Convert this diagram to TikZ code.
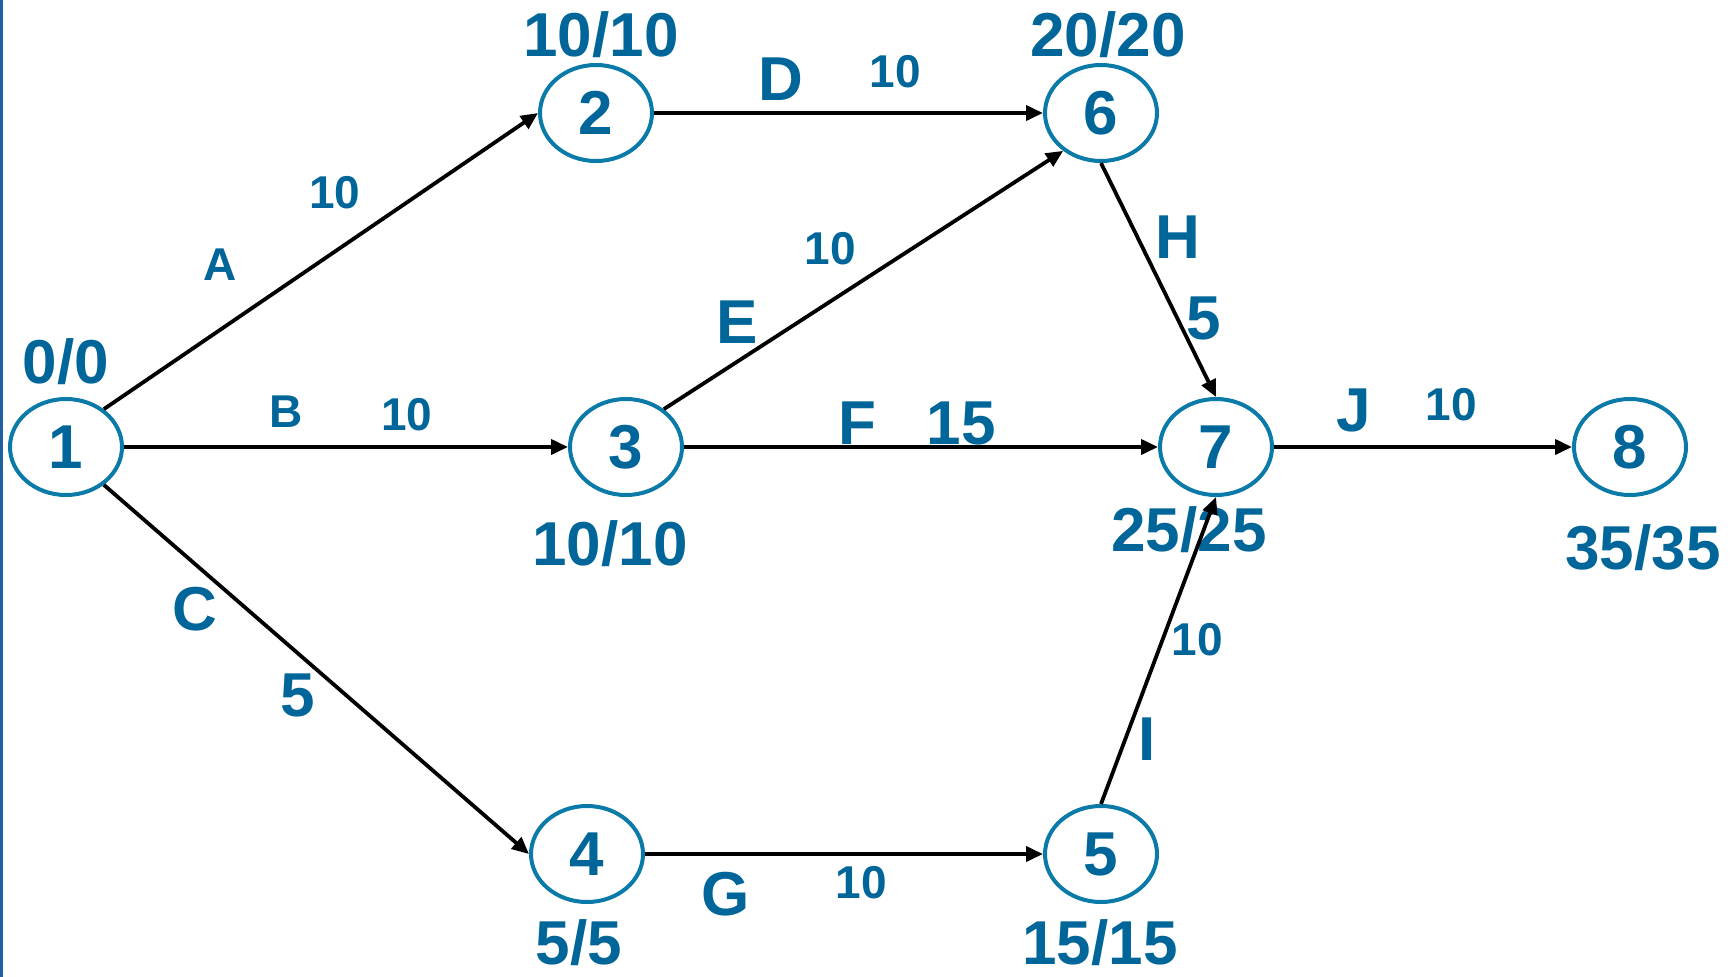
\documentclass[tikz,border=0pt]{standalone}
\usepackage{fontspec}
\setmainfont{Liberation Sans}
\usetikzlibrary{arrows.meta}
\definecolor{txtblue}{HTML}{006699}
\definecolor{ringblue}{HTML}{0A7AA8}
\definecolor{edgeblue}{HTML}{1F5FA0}
\tikzset{
  evt/.style={ellipse, draw=ringblue, line width=4pt, minimum width=112pt, minimum height=96pt, inner sep=0pt, text=txtblue, font=\fontsize{62}{62}\selectfont\bfseries},
  big/.style={text=txtblue, inner sep=0pt, font=\fontsize{62}{62}\selectfont\bfseries},
  small/.style={text=txtblue, inner sep=0pt, font=\fontsize{46}{46}\selectfont\bfseries},
  act/.style={line width=3.8pt, draw=black, -{Triangle[length=17pt,width=15pt]}}
}
\usetikzlibrary{shapes.geometric}
\begin{document}
\begin{tikzpicture}[x=1pt,y=-1pt]
\useasboundingbox (0,0) rectangle (1730,977);
\fill[edgeblue] (0,0) rectangle (3,977);
% events
\node[evt] (n1) at (66,447) {1};
\node[evt] (n2) at (596,113) {2};
\node[evt] (n3) at (626,447) {3};
\node[evt] (n4) at (587,854) {4};
\node[evt] (n5) at (1101,854) {5};
\node[evt] (n6) at (1101,113) {6};
\node[evt] (n7) at (1216,447) {7};
\node[evt] (n8) at (1630,447) {8};
% event times
\node[big] (t1) at (66,362) {0/0};
\node[big] (t2) at (601,35) {10/10};
\node[big] (t6) at (1108,35) {20/20};
\node[big] (t3) at (610,544) {10/10};
\node[big] (t7) at (1189,530) {25/25};
\node[big] (t8) at (1643,548) {35/35};
\node[big] (t4) at (579,943) {5/5};
\node[big] (t5) at (1100,943) {15/15};
% activity labels
\node[small] (lA) at (220,265) {A};
\node[small] (dA) at (335,193) {10};
\node[small] (lB) at (286,412) {B};
\node[small] (dB) at (407,415) {10};
\node[big] (lC) at (195,609) {C};
\node[big] (dC) at (298,695) {5};
\node[big] (lD) at (781,79) {D};
\node[small] (dD) at (895,72) {10};
\node[big] (lE) at (737,322) {E};
\node[small] (dE) at (830,249) {10};
\node[big] (lF) at (857,423) {F};
\node[big] (dF) at (961,423) {15};
\node[big] (lH) at (1178,237) {H};
\node[big] (dH) at (1204,318) {5};
\node[big] (lJ) at (1354,410) {J};
\node[small] (dJ) at (1451,405) {10};
\node[big] (lI) at (1147,739) {I};
\node[small] (dI) at (1197,640) {10};
\node[big] (lG) at (726,894) {G};
\node[small] (dG) at (861,883) {10};
% activities
\draw[act] (n1.45) -- (n2.west);
\draw[act] (n1.east) -- (n3.west);
\draw[act] (n1.-45) -- (n4.west);
\draw[act] (n2.east) -- (n6.west);
\draw[act] (n3.45) -- (n6.225);
\draw[act] (n3.east) -- (n7.west);
\draw[act] (n4.east) -- (n5.west);
\draw[act] (n6.south) -- (n7.north);
\draw[act] (n5.north) -- (n7.south);
\draw[act] (n7.east) -- (n8.west);
\end{tikzpicture}
\end{document}
